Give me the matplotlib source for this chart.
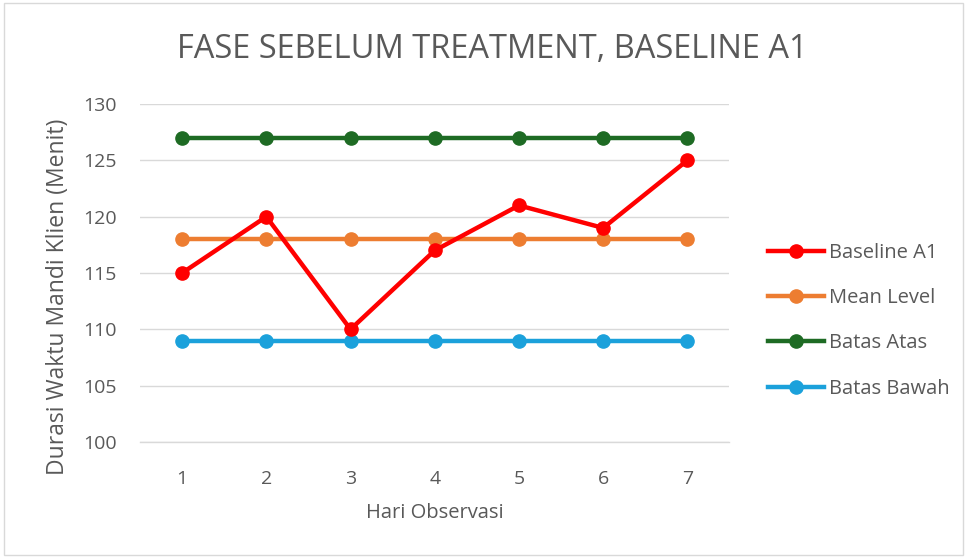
import matplotlib
matplotlib.use("Agg")
import matplotlib.pyplot as plt
from matplotlib.patches import Rectangle

days = [1, 2, 3, 4, 5, 6, 7]
baseline = [115, 120, 110, 117, 121, 119, 125]
mean_level = [118, 118, 118, 118, 118, 118, 118]
batas_atas = [127, 127, 127, 127, 127, 127, 127]
batas_bawah = [109, 109, 109, 109, 109, 109, 109]
yticks = [100, 105, 110, 115, 120, 125, 130]

plt.rcParams['font.family'] = ['Open Sans', 'DejaVu Sans']
txt = '#595959'

fig = plt.figure(figsize=(9.68, 5.58), dpi=100)
fig.patches.append(Rectangle((0.004, 0.006), 0.991, 0.988, transform=fig.transFigure,
                             fill=False, edgecolor='#d9d9d9', linewidth=1))
ax = fig.add_axes([0.1446, 0.2079, 0.609, 0.6057])

lw = 3.2
ms = 9.5
ax.plot(days, batas_bawah, color='#1BA1DB', lw=lw, marker='o', ms=ms, label='Batas Bawah', zorder=3)
ax.plot(days, batas_atas, color='#1E6B24', lw=lw, marker='o', ms=ms, label='Batas Atas', zorder=3)
ax.plot(days, mean_level, color='#ED7D31', lw=lw, marker='o', ms=ms, label='Mean Level', zorder=4)
ax.plot(days, baseline, color='#FF0000', lw=lw, marker='o', ms=ms, label='Baseline A1', zorder=5)

ax.set_xlim(0.5, 7.5)
ax.set_ylim(100, 130)
ax.set_yticks(yticks)
ax.set_xticks(days)
ax.grid(axis='y', color='#d9d9d9', lw=1)
ax.set_axisbelow(True)
for s in ['top', 'right', 'left']:
    ax.spines[s].set_visible(False)
ax.spines['bottom'].set_color('#d9d9d9')
ax.spines['bottom'].set_linewidth(1)
ax.tick_params(length=0, labelsize=14, labelcolor=txt)
ax.tick_params(axis='x', pad=20)
ax.tick_params(axis='y', pad=17)

ax.set_xlabel('Hari Observasi', fontsize=14.5, color=txt, labelpad=11)
ax.set_ylabel('Durasi Waktu Mandi Klien (Menit)', fontsize=16.5, color=txt)
ax.yaxis.set_label_coords(-0.118, 0.43)
fig.text(0.509, 0.912, 'FASE SEBELUM TREATMENT, BASELINE A1', ha='center', va='center',
         fontsize=23.5, color=txt)

handles, labels = ax.get_legend_handles_labels()
order = [3, 2, 1, 0]
leg = fig.legend([handles[i] for i in order], [labels[i] for i in order],
                 loc='center left', bbox_to_anchor=(0.793, 0.425), frameon=False,
                 fontsize=14.5, labelspacing=1.25, handlelength=2.8, handletextpad=0.25,
                 borderpad=0, borderaxespad=0)
for t in leg.get_texts():
    t.set_color(txt)

fig.savefig('out.png', dpi=100)
